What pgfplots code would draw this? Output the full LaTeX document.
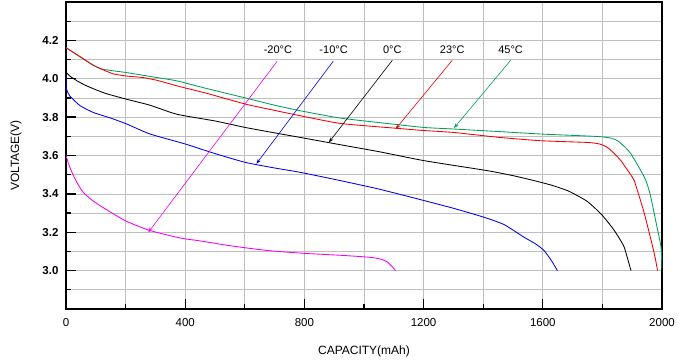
\documentclass[border=0pt]{standalone}
\usepackage{fontspec}
\setmainfont{Liberation Sans}
\usepackage{pgfplots}
\pgfplotsset{compat=1.18}
\usetikzlibrary{arrows.meta}
\definecolor{cgreen}{RGB}{0,160,90}
\definecolor{cred}{RGB}{240,0,0}
\definecolor{cblue}{RGB}{0,0,230}
\definecolor{cmag}{RGB}{240,0,240}
\definecolor{cgrid}{RGB}{190,190,190}
\begin{document}
\begin{tikzpicture}
\begin{axis}[
  scale only axis, width=596pt, height=307pt,
  xmin=0, xmax=2000, ymin=2.8, ymax=4.4,
  xtick={0,400,800,1200,1600,2000},
  minor xtick={200,600,1000,1400,1800},
  ytick={3.0,3.2,3.4,3.6,3.8,4.0,4.2},
  minor ytick={2.9,3.1,3.3,3.5,3.7,3.9,4.1,4.3},
  grid=both,
  major grid style={cgrid, line width=0.7pt},
  minor grid style={cgrid, line width=0.7pt},
  tick align=inside, xtick pos=bottom, ytick pos=left,
  major tick length=10pt, minor tick length=5pt,
  tick style={black, line width=1.3pt},
  axis line style={black, line width=1.2pt},
  /pgf/number format/assume math mode=true,
  xticklabel style={font=\fontsize{11.5}{13}\selectfont, yshift=-6pt},
  yticklabel style={font=\fontsize{11.5}{13}\selectfont\bfseries, xshift=-4pt,
    /pgf/number format/.cd, fixed, fixed zerofill, precision=1},
  x tick label style={/pgf/number format/1000 sep={}},
  xlabel={CAPACITY(mAh)}, ylabel={VOLTAGE(V)},
  xlabel style={font=\fontsize{12}{14}\selectfont, at={(axis description cs:0.5,-0.139)}, anchor=center},
  ylabel style={font=\fontsize{12}{14}\selectfont, at={(axis description cs:-0.084,0.5)}, anchor=center},
  every axis plot/.append style={line width=0.85pt, smooth, tension=0.35},
  clip=true,
]
% 45 C
\addplot[cgreen] coordinates {
(0,4.162) (47,4.115) (92,4.07) (125,4.049) (204,4.032) (290,4.01) (372,3.989) (470,3.95)
(602,3.90) (700,3.862) (787,3.833) (921,3.795) (1100,3.763) (1202,3.746) (1301,3.738)
(1450,3.725) (1593,3.712) (1728,3.703) (1795,3.698) (1830,3.69) (1851,3.677) (1875,3.645)
(1896,3.608) (1929,3.521) (1946,3.469) (1960,3.40) (1974,3.296) (1987,3.20) (1997,3.12) (2000,3.0)
};
% 23 C
\addplot[cred] coordinates {
(0,4.162) (47,4.115) (92,4.07) (125,4.046) (160,4.025) (204,4.014) (260,4.006) (310,3.99)
(372,3.963) (470,3.925) (602,3.868) (700,3.835) (787,3.807) (921,3.767) (1100,3.743)
(1202,3.73) (1302,3.72) (1450,3.695) (1593,3.677) (1750,3.668) (1790,3.66) (1817,3.642)
(1840,3.61) (1862,3.573) (1901,3.486) (1907,3.469) (1925,3.38) (1941,3.296) (1955,3.21)
(1969,3.123) (1978,3.06) (1985,3.0)
};
% 0 C
\addplot[black] coordinates {
(0,4.035) (13,4.014) (36,3.99) (69,3.963) (130,3.925) (204,3.893) (282,3.862) (372,3.815)
(500,3.78) (602,3.746) (700,3.718) (787,3.694) (921,3.656) (1050,3.62) (1202,3.573)
(1414,3.521) (1500,3.495) (1571,3.469) (1630,3.445) (1683,3.417) (1705,3.40) (1750,3.36)
(1795,3.296) (1820,3.25) (1840,3.209) (1860,3.16) (1873,3.123) (1885,3.06) (1896,3.0)
};
% -10 C
\addplot[cblue] coordinates {
(0,4.014) (2,3.945) (13,3.91) (47,3.86) (92,3.824) (150,3.795) (204,3.764) (282,3.712)
(400,3.66) (500,3.61) (602,3.564) (700,3.535) (787,3.512) (921,3.469) (1050,3.425)
(1202,3.365) (1300,3.325) (1403,3.278) (1470,3.24) (1536,3.175) (1575,3.14) (1604,3.105)
(1630,3.05) (1649,3.0)
};
% -20 C
\addplot[cmag] coordinates {
(0,3.60) (10,3.55) (25,3.495) (40,3.45) (58,3.408) (85,3.37) (114,3.339) (160,3.295)
(204,3.256) (282,3.209) (383,3.17) (450,3.155) (550,3.13) (675,3.105) (800,3.09)
(921,3.08) (1000,3.072) (1033,3.067) (1060,3.058) (1078,3.045) (1095,3.02) (1106,3.0)
};
% annotations
\begin{scope}[font=\fontsize{11}{13}\selectfont]
\node at (axis cs:711,4.153) {-20°C};
\node at (axis cs:898,4.153) {-10°C};
\node at (axis cs:1095,4.153) {0°C};
\node at (axis cs:1296,4.153) {23°C};
\node at (axis cs:1492,4.153) {45°C};
\end{scope}
\draw[cmag, line width=0.6pt, -{Stealth[length=5pt,width=3.5pt]}] (axis cs:709,4.092) -- (axis cs:276,3.199);
\draw[cblue, line width=0.6pt, -{Stealth[length=5pt,width=3.5pt]}] (axis cs:897,4.092) -- (axis cs:639,3.557);
\draw[black, line width=0.6pt, -{Stealth[length=5pt,width=3.5pt]}] (axis cs:1095,4.096) -- (axis cs:882,3.668);
\draw[cred, line width=0.6pt, -{Stealth[length=5pt,width=3.5pt]}] (axis cs:1296,4.096) -- (axis cs:1106,3.738);
\draw[cgreen, line width=0.6pt, -{Stealth[length=5pt,width=3.5pt]}] (axis cs:1492,4.096) -- (axis cs:1302,3.743);
\end{axis}
\pgfresetboundingbox
\path[use as bounding box] (current axis.south west) ++(-66pt,-53pt) rectangle ++(683pt,362pt);
\end{tikzpicture}
\end{document}
